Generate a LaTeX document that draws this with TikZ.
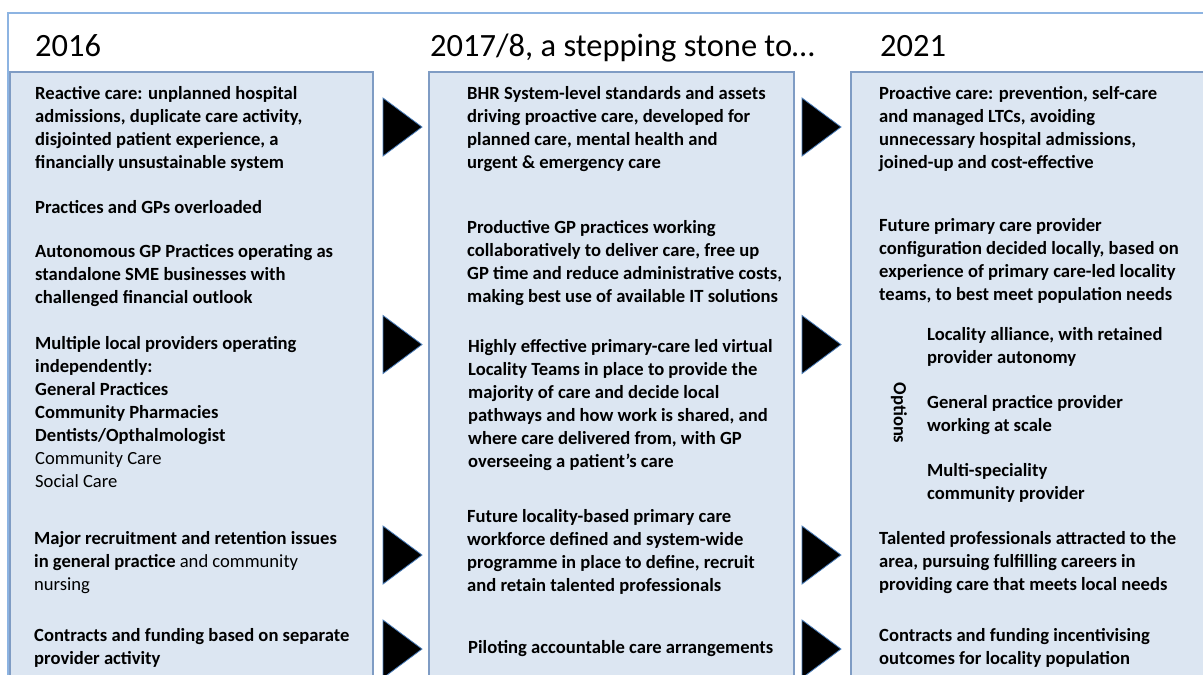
\documentclass[tikz,border=0pt]{standalone}
\usepackage{fontspec}
\setmainfont{Carlito}

\definecolor{framecol}{HTML}{8DB4E2}
\definecolor{boxline}{HTML}{7F9CC4}
\definecolor{boxfill}{HTML}{DCE6F2}
\definecolor{tipline}{HTML}{4A7EBB}

% txt nodes sit on the baseline of their last line
\tikzset{
  colbox/.style={draw=boxline, fill=boxfill, line width=1.2pt},
  txt/.style={anchor=base west, align=left, inner sep=0pt, font=\fontsize{18.6}{23}\selectfont\bfseries},
  yeartitle/.style={anchor=base west, inner sep=0pt, font=\fontsize{32.5}{40}\selectfont},
  tip/.style={fill=black, draw=tipline, line width=0.8pt}
}

\begin{document}
\begin{tikzpicture}[x=1pt, y=-1pt]
\clip (0,0) rectangle (1203,675);

% frame and the three columns
\draw [framecol, line width=1.2pt] (8,13) rectangle (1230,700);
\draw [colbox] (10,72) rectangle (373,700);
\draw [colbox] (429,72) rectangle (794,700);
\draw [colbox] (851,72) rectangle (1230,700);

\node [yeartitle] (y16) at (35,56) {2016};
\node [yeartitle] (y17) at (430,56) {2017/8, a stepping stone to…};
\node [yeartitle] (y21) at (880,56) {2021};

% arrow heads between the columns
\foreach \x in {383,802}
\foreach \y in {127,344.5,555,649}
\draw [tip] (\x,\y-29) -- (\x+39,\y) -- (\x,\y+29) -- cycle;

% 2016
\node [txt] (a1) at (35,168) {Reactive care: unplanned hospital\\admissions, duplicate care activity,\\disjointed patient experience, a\\financially unsustainable system};
\node [txt] (a2) at (35,213) {Practices and GPs overloaded};
\node [txt] (a3) at (35,303) {Autonomous GP Practices operating as\\standalone SME businesses with\\challenged financial outlook};
\node [txt] (a4) at (35,487) {Multiple local providers operating\\independently:\\General Practices\\Community Pharmacies\\Dentists/Opthalmologist\\\mdseries Community Care\\\mdseries Social Care};
\node [txt] (a5) at (34,590) {Major recruitment and retention issues\\in general practice \mdseries and community\\\mdseries nursing};
\node [txt] (a6) at (34,664) {Contracts and funding based on separate\\provider activity};

% 2017/8
\node [txt] (b1) at (467,168) {BHR System-level standards and assets\\driving proactive care, developed for\\planned care, mental health and\\urgent \& emergency care};
\node [txt] (b2) at (467,302) {Productive GP practices working\\collaboratively to deliver care, free up\\GP time and reduce administrative costs,\\making best use of available IT solutions};
\node [txt] (b3) at (468,467) {Highly effective primary-care led virtual\\Locality Teams in place to provide the\\majority of care and decide local\\pathways and how work is shared, and\\where care delivered from, with GP\\overseeing a patient’s care};
\node [txt] (b4) at (467,591) {Future locality-based primary care\\workforce defined and system-wide\\programme in place to define, recruit\\and retain talented professionals};
\node [txt] (b5) at (468,653) {Piloting accountable care arrangements};

% 2021
\node [txt] (c1) at (879,168) {Proactive care: prevention, self-care\\and managed LTCs, avoiding\\unnecessary hospital admissions,\\joined-up and cost-effective};
\node [txt] (c2) at (879,300) {Future primary care provider\\configuration decided locally, based on\\experience of primary care-led locality\\teams, to best meet population needs};
\node [txt, anchor=center, rotate=-90] (opt) at (899,413) {Options};
\node [txt] (c3) at (927,363) {Locality alliance, with retained\\provider autonomy};
\node [txt] (c4) at (927,431) {General practice provider\\working at scale};
\node [txt] (c5) at (927,499) {Multi-speciality\\community provider};
\node [txt] (c6) at (879,590) {Talented professionals attracted to the\\area, pursuing fulfilling careers in\\providing care that meets local needs};
\node [txt] (c7) at (879,664) {Contracts and funding incentivising\\outcomes for locality population};
\end{tikzpicture}
\end{document}
